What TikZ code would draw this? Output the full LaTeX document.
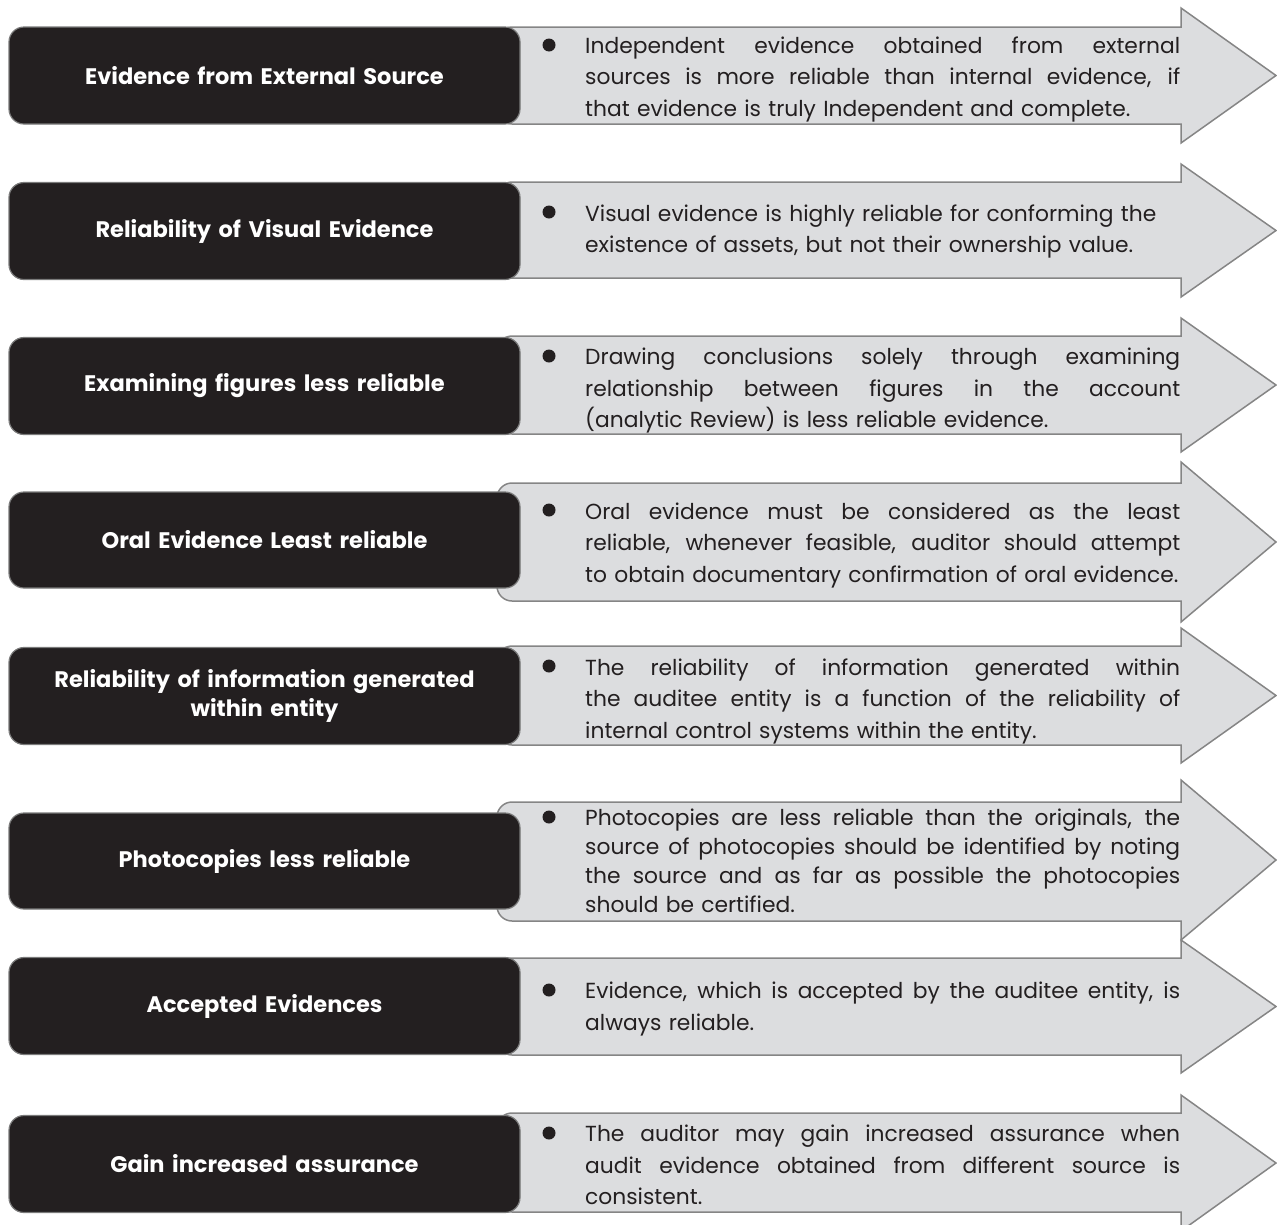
\documentclass[tikz,border=0pt]{standalone}
\usepackage{fontspec}
\setmainfont{Poppins}

\definecolor{boxdark}{HTML}{231F20}
\definecolor{boxline}{HTML}{7A7A7A}
\definecolor{bandfill}{HTML}{DCDDDF}
\definecolor{bandline}{HTML}{858585}
\definecolor{inkdark}{HTML}{231F20}

\newlength{\ptw}
\setlength{\ptw}{595pt}
% one justified line of a point
\newcommand{\jl}[1]{\makebox[\ptw][s]{\spaceskip=.3333em plus 1fill\relax #1}}
% grey band with arrow head: top, bottom, head top, head bottom
\newcommand{\evband}[4]{%
  \filldraw[band] (1181,#1) -- (512,#1) arc[start angle=90,end angle=180,radius=15pt]
    -- (497,#2-15) arc[start angle=180,end angle=270,radius=15pt]
    -- (1181,#2) -- (1181,#4) -- (1276,{(#3+#4)/2}) -- (1181,#3) -- cycle;}

\tikzset{
  band/.style={fill=bandfill, draw=bandline, line width=1.5pt, line join=miter},
  lbl/.style={rectangle, rounded corners=15pt, fill=boxdark, draw=boxline, line width=1.2pt,
    minimum width=511pt, minimum height=97pt, text width=490pt, align=center,
    text=white, font=\bfseries\fontsize{22.5}{29}\selectfont},
  pts/.style={anchor=west, text width=\ptw, align=left, inner sep=0pt, text=inkdark,
    yshift=-2.5pt, font=\fontsize{21.8}{31.5}\selectfont,
    execute at begin node=\strut, execute at end node=\strut},
  dot/.style={circle, fill=inkdark, minimum size=13pt, inner sep=0pt}
}

\begin{document}
\begin{tikzpicture}[x=1pt, y=-1pt]
  \useasboundingbox (0,0) rectangle (1277,1224);

  % bands
  \evband{27}{124}{8}{143}
  \evband{182}{278}{164}{297}
  \evband{336}{434}{318}{452}
  \evband{483}{601}{462}{622}
  \evband{646}{745}{628}{763}
  \evband{802}{921}{780}{940}
  \evband{958}{1055}{940}{1073}
  \evband{1113}{1212}{1095}{1231}

  % headings
  \node[lbl] (lbl1) at (264.5,75.5) {Evidence from External Source};
  \node[lbl] (lbl2) at (264.5,231) {Reliability of Visual Evidence};
  \node[lbl] (lbl3) at (264.5,386) {Examining figures less reliable};
  \node[lbl, minimum height=96pt] (lbl4) at (264.5,540) {Oral Evidence Least reliable};
  \node[lbl] (lbl5) at (264.5,696) {Reliability of information generated\\ within entity};
  \node[lbl, minimum height=96pt] (lbl6) at (264.5,861) {Photocopies less reliable};
  \node[lbl] (lbl7) at (264.5,1006) {Accepted Evidences};
  \node[lbl] (lbl8) at (264.5,1164) {Gain increased assurance};

  % points
  \node[pts] (txt1) at (585,76) {\jl{Independent evidence obtained from external}\\
    \jl{sources is more reliable than internal evidence, if}\\
    that evidence is truly Independent and complete.};
  \node[pts] (txt2) at (585,228) {Visual evidence is highly reliable for conforming the\\
    existence of assets, but not their ownership value.};
  \node[pts] (txt3) at (585,387.5) {\jl{Drawing conclusions solely through examining}\\
    \jl{relationship between figures in the account}\\
    (analytic Review) is less reliable evidence.};
  \node[pts] (txt4) at (585,542) {\jl{Oral evidence must be considered as the least}\\
    \jl{reliable, whenever feasible, auditor should attempt}\\
    to obtain documentary confirmation of oral evidence.};
  \node[pts] (txt5) at (585,698) {\jl{The reliability of information generated within}\\
    \jl{the auditee entity is a function of the reliability of}\\
    internal control systems within the entity.};
  \node[pts, font=\fontsize{21.8}{29}\selectfont] (txt6) at (585,860.5) {\jl{Photocopies are less reliable than the originals, the}\\
    \jl{source of photocopies should be identified by noting}\\
    \jl{the source and as far as possible the photocopies}\\
    should be certified.};
  \node[pts] (txt7) at (585,1005.5) {\jl{Evidence, which is accepted by the auditee entity, is}\\
    always reliable.};
  \node[pts] (txt8) at (585,1164.5) {\jl{The auditor may gain increased assurance when}\\
    \jl{audit evidence obtained from different source is}\\
    consistent.};

  % bullets
  \node[dot] (dot1) at (549,45) {};
  \node[dot] (dot2) at (549,212) {};
  \node[dot] (dot3) at (549,356) {};
  \node[dot] (dot4) at (549,510) {};
  \node[dot] (dot5) at (549,666) {};
  \node[dot] (dot6) at (549,817) {};
  \node[dot] (dot7) at (549,990) {};
  \node[dot] (dot8) at (549,1133) {};
\end{tikzpicture}
\end{document}
